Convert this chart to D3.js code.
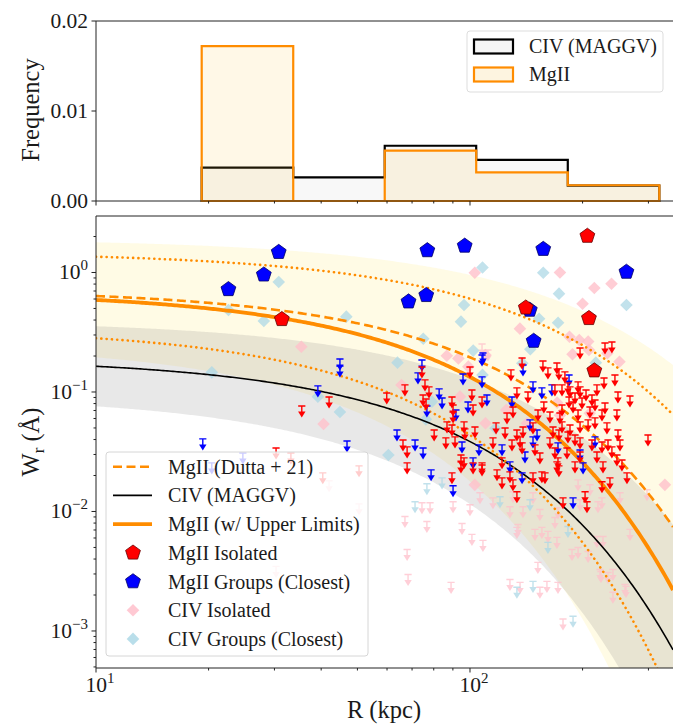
<!DOCTYPE html>
<html><head><meta charset="utf-8">
<script src="https://cdn.jsdelivr.net/npm/d3@7"></script>
<style>
body{margin:0;background:#fff}
</style>
</head><body><svg id="c" width="673" height="724"></svg>
<script>
// ---------------- DATA ----------------
const histEdges = [19.17, 33.68, 59.16, 103.9, 182.6, 320.8];
const histCIV  = [0.0037, 0.00263, 0.00614, 0.00456, 0.0017];
const histMgII = [0.0172, 0, 0.00559, 0.00319, 0.00175];
const histLabels = ["CIV (MAGGV)", "MgII"];

// model lines: log10 W = a + b * R
const lineNames = ["MgII (Dutta + 21)", "CIV (MAGGV)", "MgII (w/ Upper Limits)", "MgII hi", "MgII lo"];
const lineA = [-0.14, -0.715, -0.158, 0.171, -0.46];
const lineB = [-0.0057, -0.0070, -0.00716, -0.0039, -0.0090];
// shaded bands: [upper a, upper b, lower a, lower b]
const mgiiBand = [0.283, -0.00303, -0.595, -0.01153];
const civBand  = [-0.401, -0.0049, -1.029, -0.0091];

const mgiiIsolated = [[31.4,0.406],[206,2.02],[141,0.507],[208,0.414],[215,0.151]];
const mgiiGroups = [[30.8,1.48],[28.1,0.958],[22.6,0.723],[76.9,1.53],[96.8,1.67],[157,1.57],[262,1.01],[68.5,0.57],[76.4,0.645],[144.5,0.486],[148,0.267]];
const civIsolated = [[35.4,0.239],[40.6,0.054],[103,0.996],[174,1.0],[215,0.742],[239,0.806],[200,0.548],[136,0.339],[184.5,0.29],[196,0.272],[207,0.264],[188,0.207],[208,0.225],[251,0.179],[233,0.211],[86.7,0.201],[93.1,0.191],[99,0.163],[65.6,0.1145],[94,0.0914],[110,0.204],[171,0.0814],[174,0.064],[125,0.0707],[110,0.0547],[142,0.0547],[209,0.0663],[332,0.0167],[103,0.0167]];
const civGroups = [[30.8,0.833],[22.6,0.486],[28.1,0.393],[46.7,0.427],[20.4,0.146],[39.2,0.0914],[44.9,0.068],[60.5,0.0297],[108,1.10],[157,0.996],[173,0.665],[262,0.535],[96.4,0.535],[94.6,0.388],[153,0.41],[172,0.38],[75,0.279],[145,0.228],[102,0.222],[64,0.176],[217,0.176],[76.2,0.059],[79.1,0.083],[108,0.139],[138,0.174],[117,0.0497]];

const mgiiIsolatedUL = [[35.5,0.0764],[42.0,0.0908],[59.9,0.0981],[30.3,0.034],[67.0,0.1146],[74.4,0.162],[75.8,0.1262],[77.7,0.1103],[74.9,0.0944],[76.3,0.0874],[89.5,0.0908],[90.1,0.0779],[90.1,0.0681],[86.8,0.0562],[89.5,0.053],[80.2,0.0481],[86.2,0.0413],[91.2,0.0421],[100,0.162],[101.2,0.1039],[101.9,0.0779],[103.1,0.051],[96.4,0.0562],[96.9,0.0491],[107.7,0.0908],[66.2,0.0397],[67.9,0.0347],[94.6,0.0297],[96.4,0.0281],
[229.6,0.2572],[239.6,0.2622],[196.9,0.2336],[244.1,0.1389],[228.2,0.1311],[128.7,0.153],[137.8,0.1927],[156.7,0.1819],[170.8,0.175],[172.9,0.156],[161.6,0.159],[179.4,0.1472],[194.5,0.1214],[182.8,0.1191],[196.9,0.1103],[204.3,0.1039],[218.5,0.1146],[211.9,0.0944],[248.7,0.1],[267.8,0.0926],[133.5,0.1082],[142.9,0.1],[168.7,0.1146],[176.2,0.1146],[185.1,0.1103],[190.9,0.0981],[184.0,0.0908],[188.6,0.0825],[199.3,0.0891],[176.2,0.0779],[157.6,0.0825],[152.0,0.0707],[163.6,0.0681],[174.0,0.0668],[194.5,0.0707],[209.3,0.0749],[215.9,0.0857],[229.6,0.0809],[247.1,0.0707],[225.4,0.0707],[215.9,0.0607],[206.9,0.0584],[232.4,0.0551],[248.7,0.0481],[196.9,0.0562],[185.1,0.053],[176.2,0.0562],[166.7,0.051],[147.4,0.0551],[138.6,0.051],[130.3,0.0749],[125.6,0.0668],[117.4,0.0551],[124.1,0.05],[133.5,0.0481],[115.2,0.0413],[129.5,0.0397],[136.1,0.0421],[137.8,0.0375],[149.2,0.0361],[153.8,0.0309],[163.6,0.0413],[172.9,0.0481],[182.8,0.0463],[190.9,0.0437],[196.9,0.0413],[211.9,0.0397],[225.4,0.0382],[233.9,0.0397],[251.8,0.0397],[299.2,0.0437],[239.6,0.0347],[218.5,0.0315],[247.1,0.0297],[181.7,0.034],[168.7,0.034],[196.9,0.0315],[171.9,0.0281],[121.8,0.0281],
[118.1,0.0223],[121.8,0.0191],[127.9,0.02146],[130.3,0.0184],[133.5,0.01461],[155.7,0.02146],[158.7,0.02105],[172.9,0.0241],[170.8,0.026],[190.9,0.026],[225.4,0.01771],[236.7,0.0191],[262.9,0.02105],[177.3,0.013],[203.1,0.01461],[205.5,0.01205],[226.8,0.026],[254.9,0.027],[107.7,0.0245],[89.5,0.02105],[67.9,0.0255],[94.6,0.026],[101.9,0.0255],[107.7,0.0255],[147.4,0.02105],[33.2,0.0309],[40.4,0.02105],[50.5,0.0241]];

const mgiiGroupsUL = [[44.9,0.189],[44.9,0.165],[39.2,0.1124],[19.3,0.0405],[46.9,0.0389],[24.7,0.0309],[20.4,0.0255],[74.4,0.1854],[72.6,0.1444],[82.7,0.1061],[84.2,0.0891],[76.7,0.0764],[95.8,0.1416],[98.8,0.0825],[107.7,0.1337],[107.7,0.2041],[63.8,0.0481],[71.3,0.0397],[74.9,0.034],[95.2,0.0382],[105.7,0.0361],[101.9,0.0281],[91.7,0.0707],[138.6,0.1684],[147.4,0.1214],[155.7,0.1082],[184.0,0.1389],[129.5,0.0908],[144.7,0.0584],[151.1,0.0481],[147.4,0.0421],[171.9,0.0375],[196.9,0.0327],[121.8,0.0361],[140.3,0.0315],[215.9,0.0421],[111.0,0.0944],[108.3,0.2122],[165.6,0.1146],[137.8,0.02105],[188.6,0.013],[200.6,0.0255],[127.9,0.026],[78.7,0.0223],[90.1,0.0164]];

const civIsolatedUL = [[42.0,0.01806],[50.5,0.01159],[30.3,0.00347],[67.0,0.00908],[67.9,0.00481],[68.3,0.00297],[76.7,0.00825],[89.0,0.00255],[95.2,0.00794],[101.2,0.00643],[108.3,0.00573],[90.1,0.01205],[100,0.01137],[78.2,0.01182],[74.4,0.01182],[151.9,0.00375],[127.9,0.0027],[136.1,0.00255],[153.8,0.00232],[160.6,0.0026],[171.9,0.00255],[177.3,0.00126],[133.5,0.00736],[224.0,0.00315],[233.9,0.00309],[241.1,0.00211],[261.3,0.00236],[106.35,0.01433],[115.2,0.013],[138.6,0.01094],[147.4,0.01433],[153.8,0.01039],[134.4,0.00779],[149.2,0.00708],[155.7,0.00736],[161.6,0.00681],[170.8,0.00607],[187.4,0.00481],[194.5,0.005],[206.9,0.00463],[218.5,0.00618],[226.8,0.00618],[267.8,0.00708],[297.4,0.01518],[194.5,0.0184],[209.3,0.01672],[225.4,0.013],[251.8,0.01433],[219.9,0.01205],[196.9,0.01252],[171.9,0.01074],[168.7,0.00891],[127.9,0.01094],[222.6,0.00327],[241.1,0.00327],[259.7,0.00245],[107.7,0.2523],[111.7,0.2248],[130.3,0.01461]];

const civGroupsUL = [[71.3,0.01205],[76.7,0.01704],[84.2,0.0191],[133.5,0.00232],[147.4,0.0026],[188.6,0.00133],[120.3,0.01327],[144.7,0.01252],[182.8,0.00749],[161.6,0.00551]];

const xTickMajor = [10, 100];
const xTickMinor = [20,30,40,50,60,70,80,90,200,300];
const yTickMajor = [1, 0.1, 0.01, 0.001];
const yTickExp = ["0", "−1", "−2", "−3"];
const yTopTicks = [0, 0.01, 0.02];
const yTopLabels = ["0.00", "0.01", "0.02"];
const legendLabels = ["MgII (Dutta + 21)", "CIV (MAGGV)", "MgII (w/ Upper Limits)", "MgII Isolated", "MgII Groups (Closest)", "CIV Isolated", "CIV Groups (Closest)"];

// ---------------- DRAW ----------------
const FONT = "'Liberation Serif'";
const svg = d3.select("#c");
const ORANGE = "#ff8c00";
const TXT = "#1a1a1a";
const L = 96, Rr = 673;
const x = d3.scaleLog().domain([10, 349]).range([L, Rr]);
const yT = d3.scaleLinear().domain([0, 0.02]).range([201, 21]);
const yB = d3.scaleLog().domain([4.9e-4, 2.97]).range([668, 216]);
function txt(xp, yp, size, anchor) {
  return svg.append("text").attr("x", xp).attr("y", yp).attr("font-size", size)
    .attr("text-anchor", anchor || "start").attr("font-family", FONT).attr("fill", TXT);
}

// ---- top panel ----
function histPath(vals) {
  const p = d3.path();
  p.moveTo(x(histEdges[0]), yT(0));
  vals.forEach((v, i) => { p.lineTo(x(histEdges[i]), yT(v)); p.lineTo(x(histEdges[i + 1]), yT(v)); });
  p.lineTo(x(histEdges[vals.length]), yT(0));
  p.closePath();
  return p.toString();
}
svg.append("path").attr("d", histPath(histCIV)).attr("fill", "rgba(128,128,128,0.06)")
  .attr("stroke", "#000").attr("stroke-width", 2.2).attr("stroke-linejoin", "miter");
svg.append("path").attr("d", histPath(histMgII)).attr("fill", "rgba(255,200,60,0.12)")
  .attr("stroke", ORANGE).attr("stroke-width", 2.2).attr("stroke-linejoin", "miter");

// top axes
const axT = svg.append("g").attr("stroke", "#222").attr("stroke-width", 1);
axT.append("line").attr("x1", L).attr("x2", Rr).attr("y1", 21).attr("y2", 21);
axT.append("line").attr("x1", L).attr("x2", Rr).attr("y1", 201).attr("y2", 201);
axT.append("line").attr("x1", L).attr("x2", L).attr("y1", 21).attr("y2", 201);
yTopTicks.forEach((t, i) => {
  axT.append("line").attr("x1", L - 4.5).attr("x2", L).attr("y1", yT(t)).attr("y2", yT(t));
  txt(88, yT(t) + 7, 21.5, "end").text(yTopLabels[i]);
});
xTickMajor.forEach(t => axT.append("line").attr("x1", x(t)).attr("x2", x(t)).attr("y1", 201).attr("y2", 205.5));
xTickMinor.forEach(t => axT.append("line").attr("x1", x(t)).attr("x2", x(t)).attr("y1", 201).attr("y2", 203.5));
txt(0, 0, 24.5, "middle").attr("transform", "translate(39,110) rotate(-90)").text("Frequency");

// top legend
svg.append("rect").attr("x", 467).attr("y", 31).attr("width", 196).attr("height", 61).attr("rx", 3)
  .attr("fill", "rgba(255,255,255,0.8)").attr("stroke", "#ddd");
svg.append("rect").attr("x", 474).attr("y", 39.5).attr("width", 39).attr("height", 14)
  .attr("fill", "#f6f6f6").attr("stroke", "#000").attr("stroke-width", 2.2);
svg.append("rect").attr("x", 474).attr("y", 67.5).attr("width", 39).attr("height", 14)
  .attr("fill", "#fdf4e0").attr("stroke", ORANGE).attr("stroke-width", 2.2);
histLabels.forEach((t, i) => txt(529, 53 + 28 * i, 20).text(t));

// ---- bottom panel ----
svg.append("defs").append("clipPath").attr("id", "clipB").append("rect")
  .attr("x", L).attr("y", 216).attr("width", Rr - L).attr("height", 452);
const gB = svg.append("g").attr("clip-path", "url(#clipB)");

const Rs = d3.range(0, 301).map(i => Math.pow(10, 1 + i * Math.log10(34.9) / 300));
const lin = (a, b) => R => Math.pow(10, a + b * R);
function bandArea(p) {
  const up = lin(p[0], p[1]), lo = lin(p[2], p[3]);
  return d3.area().x(R => x(R)).y0(R => yB(Math.max(lo(R), 1e-6))).y1(R => yB(up(R)))(Rs);
}
gB.append("path").attr("d", bandArea(mgiiBand)).attr("fill", "rgba(255,215,0,0.1)");
gB.append("path").attr("d", bandArea(civBand)).attr("fill", "rgba(128,128,128,0.18)");

// marker shapes
function pentagon(r) {
  const pts = d3.range(5).map(k => { const a = -Math.PI / 2 + k * 2 * Math.PI / 5; return [r * Math.cos(a), r * Math.sin(a)]; });
  return "M" + pts.map(p => p.join(",")).join("L") + "Z";
}
function diamond(r) { return `M0,${-r}L${r},0L0,${r}L${-r},0Z`; }
function ulArrow(g, data, color, op) {
  const s = g.append("g").attr("opacity", op);
  data.forEach(d => {
    const cx = x(d[0]), cy = yB(d[1]);
    s.append("path").attr("d", `M${cx - 3.6},${cy}L${cx + 3.6},${cy}M${cx},${cy}L${cx},${cy + 6}`)
      .attr("stroke", color).attr("stroke-width", 1.4).attr("fill", "none");
    s.append("path").attr("d", `M${cx - 3.7},${cy + 5.5}L${cx + 3.7},${cy + 5.5}L${cx},${cy + 11.5}Z`)
      .attr("fill", color);
  });
}
function diamonds(g, data, color, op) {
  g.append("g").selectAll("path").data(data).join("path")
    .attr("d", diamond(6.3)).attr("transform", d => `translate(${x(d[0])},${yB(d[1])})`)
    .attr("fill", color).attr("opacity", op);
}
function pentagons(g, data, color, edge) {
  g.append("g").selectAll("path").data(data).join("path")
    .attr("d", pentagon(7.8)).attr("transform", d => `translate(${x(d[0])},${yB(d[1])})`)
    .attr("fill", color).attr("stroke", edge).attr("stroke-width", 0.8);
}

// CIV points (transparent)
ulArrow(gB, civIsolatedUL, "#ffc0cb", 0.75);
ulArrow(gB, civGroupsUL, "#add8e6", 0.75);
diamonds(gB, civIsolated, "#ffc0cb", 0.8);
diamonds(gB, civGroups, "#add8e6", 0.75);

// model lines
const lineStyles = [
  {c: ORANGE, w: 2.6, dash: "9,4.5"},
  {c: "#000", w: 1.6, dash: null},
  {c: ORANGE, w: 3.8, dash: null},
  {c: ORANGE, w: 2.6, dash: "0.1,5.2"},
  {c: ORANGE, w: 2.6, dash: "0.1,5.2"}
];
lineNames.forEach((n, i) => {
  const f = lin(lineA[i], lineB[i]);
  const p = gB.append("path").attr("d", d3.line().x(R => x(R)).y(R => yB(Math.max(f(R), 1e-6)))(Rs))
    .attr("fill", "none").attr("stroke", lineStyles[i].c).attr("stroke-width", lineStyles[i].w);
  if (lineStyles[i].dash) p.attr("stroke-dasharray", lineStyles[i].dash);
  if (i >= 3) p.attr("stroke-linecap", "round");
});

// MgII points
ulArrow(gB, mgiiGroupsUL, "#0000ff", 1);
ulArrow(gB, mgiiIsolatedUL, "#ff0000", 1);
pentagons(gB, mgiiGroups, "#0000ff", "#000066");
pentagons(gB, mgiiIsolated, "#ff0000", "#660000");

// bottom axes
const axB = svg.append("g").attr("stroke", "#222").attr("stroke-width", 1);
axB.append("line").attr("x1", L).attr("x2", Rr).attr("y1", 216).attr("y2", 216);
axB.append("line").attr("x1", L).attr("x2", Rr).attr("y1", 668).attr("y2", 668);
axB.append("line").attr("x1", L).attr("x2", L).attr("y1", 216).attr("y2", 668);
xTickMajor.forEach(t => axB.append("line").attr("x1", x(t)).attr("x2", x(t)).attr("y1", 668).attr("y2", 672.5));
xTickMinor.forEach(t => axB.append("line").attr("x1", x(t)).attr("x2", x(t)).attr("y1", 668).attr("y2", 670.5));
const yMinor = [];
[0.0001, 0.001, 0.01, 0.1, 1].forEach(dec => d3.range(2, 10).forEach(k => {
  const v = dec * k; if (v > 4.9e-4 && v < 2.97) yMinor.push(v);
}));
yMinor.forEach(v => axB.append("line").attr("x1", L - 2.5).attr("x2", L).attr("y1", yB(v)).attr("y2", yB(v)));
yTickMajor.forEach((v, i) => {
  axB.append("line").attr("x1", L - 4.5).attr("x2", L).attr("y1", yB(v)).attr("y2", yB(v));
  const t = txt(88, yB(v) + 7, 21.5, "end");
  t.append("tspan").text("10");
  t.append("tspan").attr("dy", -9).attr("font-size", 15).text(yTickExp[i]);
});
["1", "2"].forEach((e, i) => {
  const t = txt(x(xTickMajor[i]) + 4, 692, 21.5, "middle");
  t.append("tspan").text("10");
  t.append("tspan").attr("dy", -9).attr("font-size", 15).text(e);
});
txt(384, 718, 24.5, "middle").text("R (kpc)");
const yl = txt(0, 0, 24.5, "middle").attr("transform", "translate(39,442) rotate(-90)");
yl.append("tspan").text("W");
yl.append("tspan").attr("dy", 5).attr("font-size", 17).text("r");
yl.append("tspan").attr("dy", -5).text(" (Å)");

// bottom legend
svg.append("rect").attr("x", 106).attr("y", 452).attr("width", 262).attr("height", 204).attr("rx", 3)
  .attr("fill", "rgba(255,255,255,0.8)").attr("stroke", "#d6d6d6");
const rowY = d3.range(7).map(i => 466.7 + i * 28.7);
[0, 1, 2].forEach(i => {
  const s = lineStyles[i];
  const l = svg.append("line").attr("x1", 113).attr("x2", 152).attr("y1", rowY[i]).attr("y2", rowY[i])
    .attr("stroke", s.c).attr("stroke-width", s.w);
  if (s.dash) l.attr("stroke-dasharray", s.dash);
});
svg.append("path").attr("d", pentagon(7.8)).attr("transform", `translate(133,${rowY[3]})`).attr("fill", "#ff0000").attr("stroke", "#660000").attr("stroke-width", 0.8);
svg.append("path").attr("d", pentagon(7.8)).attr("transform", `translate(133,${rowY[4]})`).attr("fill", "#0000ff").attr("stroke", "#000066").attr("stroke-width", 0.8);
svg.append("path").attr("d", diamond(6.3)).attr("transform", `translate(133,${rowY[5]})`).attr("fill", "#ffc0cb").attr("opacity", 0.85);
svg.append("path").attr("d", diamond(6.3)).attr("transform", `translate(133,${rowY[6]})`).attr("fill", "#add8e6").attr("opacity", 0.85);
legendLabels.forEach((t, i) => txt(168, rowY[i] + 7, 20).text(t));
</script>
</body></html>
